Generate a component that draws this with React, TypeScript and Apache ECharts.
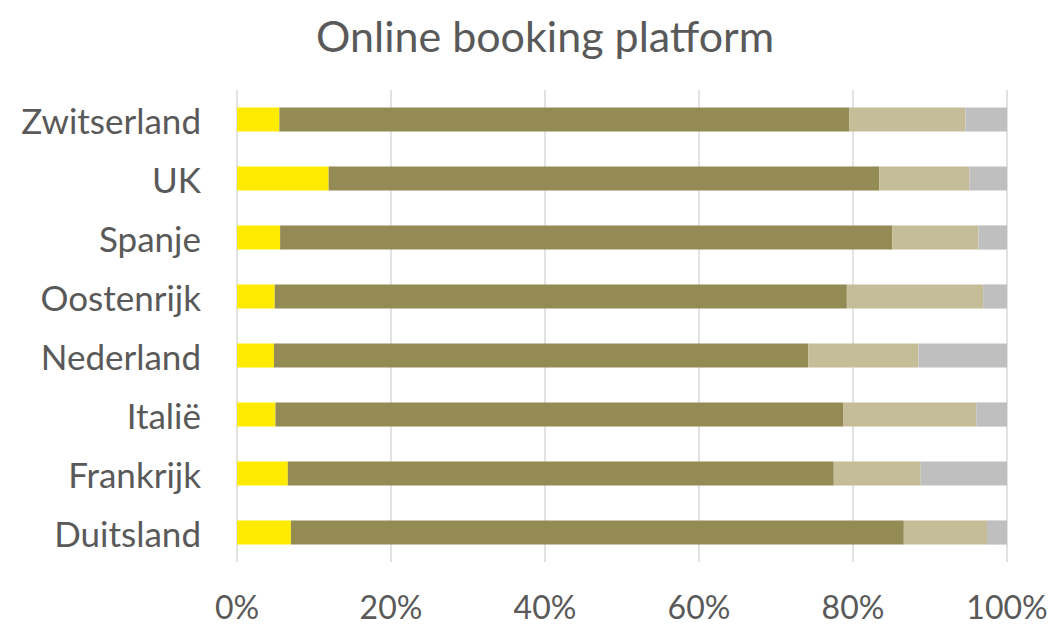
import React, { useEffect, useRef } from "react";
import * as echarts from "echarts";

const categories = ["Zwitserland", "UK", "Spanje", "Oostenrijk", "Nederland", "Italië", "Frankrijk", "Duitsland"];
const seriesNames = ["Categorie 1", "Categorie 2", "Categorie 3", "Categorie 4"];
const values1 = [5.5, 11.9, 5.6, 4.9, 4.8, 5.0, 6.6, 7.0];
const values2 = [74.0, 71.5, 79.5, 74.3, 69.4, 73.7, 70.9, 79.6];
const values3 = [15.1, 11.7, 11.2, 17.7, 14.3, 17.3, 11.3, 10.8];
const values4 = [5.4, 4.9, 3.7, 3.1, 11.5, 4.0, 11.2, 2.6];
const colors = ["#FFEB00", "#948A54", "#C4BD97", "#BFBFBF"];

const FONT = "Lato";
const TEXT = "#595959";

export default function App() {
  const ref = useRef<HTMLDivElement>(null);
  useEffect(() => {
    document.body.style.margin = "0";
    const chart = echarts.init(ref.current!, null, { renderer: "svg" });
    const all = [values1, values2, values3, values4];
    chart.setOption({
      animation: false,
      title: {
        text: "Online booking platform",
        left: 311,
        top: 9,
        textStyle: { fontFamily: FONT, fontSize: 43, fontWeight: "normal", color: TEXT },
      },
      grid: { left: 237, right: 48, top: 90, height: 472 },
      xAxis: {
        type: "value",
        min: 0,
        max: 100,
        interval: 20,
        axisLabel: { formatter: "{value}%", fontFamily: FONT, fontSize: 32, color: TEXT, margin: 28 },
        splitLine: { lineStyle: { color: "#D9D9D9", width: 1.5 } },
        axisLine: { show: false },
        axisTick: { show: false },
      },
      yAxis: {
        type: "category",
        inverse: true,
        data: categories,
        axisLabel: { fontFamily: FONT, fontSize: 35, color: TEXT, margin: 36, padding: [0, 0, 4, 0] },
        axisLine: { show: false },
        axisTick: { show: false },
      },
      series: all.map((d, i) => ({
        name: seriesNames[i],
        type: "bar",
        stack: "total",
        data: d,
        barCategoryGap: "59%",
        itemStyle: { color: colors[i] },
      })),
    });
    return () => chart.dispose();
  }, []);
  return <div ref={ref} style={{ width: 1055, height: 624 }} />;
}
